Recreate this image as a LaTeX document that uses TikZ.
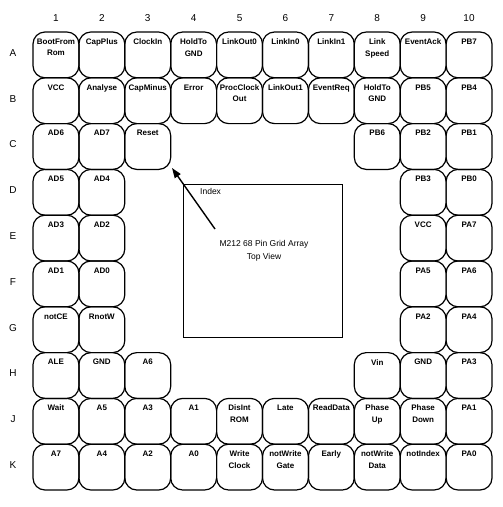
\documentclass[tikz,border=0pt]{standalone}
\usepackage{fontspec}
\setmainfont{Liberation Sans}
\usetikzlibrary{arrows.meta}
\tikzset{
  pinbox/.style={draw, line width=1.2pt, rounded corners=12pt, minimum width=45.9pt, minimum height=45.8pt, inner sep=0pt, outer sep=0pt},
  pintext/.style={font=\bfseries\fontsize{8}{11.5}\selectfont, align=center, anchor=north, inner sep=0pt},
  axislbl/.style={font=\fontsize{10}{12}\selectfont, inner sep=0pt},
  chiptext/.style={font=\fontsize{8.5}{13}\selectfont, align=center, inner sep=0pt}
}
\newcommand\mypin[3]{%
  \node[pinbox] (p#1-#2) at ({33+45.9*(#1-0.5)},{32+45.8*(#2+0.5)}) {};
  \node[pintext] (t#1-#2) at ([yshift=-6.5pt]p#1-#2.north) {#3};}
\begin{document}
\begin{tikzpicture}[x=1pt,y=-1pt]
\useasboundingbox (0,0) rectangle (503,507);
% column numbers
\foreach \c in {1,...,10} {
  \node[axislbl] (col\c) at ({33+45.9*(\c-0.5)},18) {\c};
}
% row letters
\foreach \r/\l in {0/A,1/B,2/C,3/D,4/E,5/F,6/G,7/H,8/J,9/K} {
  \node[axislbl] (row\l) at (13,{32+45.8*(\r+0.5)-2}) {\l};
}
% row A
\mypin{1}{0}{BootFrom\\Rom}
\mypin{2}{0}{CapPlus}
\mypin{3}{0}{ClockIn}
\mypin{4}{0}{HoldTo\\GND}
\mypin{5}{0}{LinkOut0}
\mypin{6}{0}{LinkIn0}
\mypin{7}{0}{LinkIn1}
\mypin{8}{0}{Link\\Speed}
\mypin{9}{0}{EventAck}
\mypin{10}{0}{PB7}
% row B
\mypin{1}{1}{VCC}
\mypin{2}{1}{Analyse}
\mypin{3}{1}{CapMinus}
\mypin{4}{1}{Error}
\mypin{5}{1}{ProcClock\\Out}
\mypin{6}{1}{LinkOut1}
\mypin{7}{1}{EventReq}
\mypin{8}{1}{HoldTo\\GND}
\mypin{9}{1}{PB5}
\mypin{10}{1}{PB4}
% row C
\mypin{1}{2}{AD6}
\mypin{2}{2}{AD7}
\mypin{3}{2}{Reset}
\mypin{8}{2}{PB6}
\mypin{9}{2}{PB2}
\mypin{10}{2}{PB1}
% row D
\mypin{1}{3}{AD5}
\mypin{2}{3}{AD4}
\mypin{9}{3}{PB3}
\mypin{10}{3}{PB0}
% row E
\mypin{1}{4}{AD3}
\mypin{2}{4}{AD2}
\mypin{9}{4}{VCC}
\mypin{10}{4}{PA7}
% row F
\mypin{1}{5}{AD1}
\mypin{2}{5}{AD0}
\mypin{9}{5}{PA5}
\mypin{10}{5}{PA6}
% row G
\mypin{1}{6}{notCE}
\mypin{2}{6}{RnotW}
\mypin{9}{6}{PA2}
\mypin{10}{6}{PA4}
% row H
\mypin{1}{7}{ALE}
\mypin{2}{7}{GND}
\mypin{3}{7}{A6}
\mypin{8}{7}{Vin}
\mypin{9}{7}{GND}
\mypin{10}{7}{PA3}
% row J
\mypin{1}{8}{Wait}
\mypin{2}{8}{A5}
\mypin{3}{8}{A3}
\mypin{4}{8}{A1}
\mypin{5}{8}{DisInt\\ROM}
\mypin{6}{8}{Late}
\mypin{7}{8}{ReadData}
\mypin{8}{8}{Phase\\Up}
\mypin{9}{8}{Phase\\Down}
\mypin{10}{8}{PA1}
% row K
\mypin{1}{9}{A7}
\mypin{2}{9}{A4}
\mypin{3}{9}{A2}
\mypin{4}{9}{A0}
\mypin{5}{9}{Write\\Clock}
\mypin{6}{9}{notWrite\\Gate}
\mypin{7}{9}{Early}
\mypin{8}{9}{notWrite\\Data}
\mypin{9}{9}{notIndex}
\mypin{10}{9}{PA0}
% chip outline
\node[draw, line width=1pt, minimum width=159pt, minimum height=153pt, inner sep=0pt] (chip) at (262.5,260.5) {};
\node[chiptext, anchor=west] (idx) at (200,191) {Index};
\node[chiptext] (chiplbl) at (264,251) {M212 68 Pin Grid Array\\Top View};
\coordinate (idxtail) at (215,229);
\coordinate (idxtip) at (172,168);
\draw[line width=1.4pt, -{Triangle[length=10pt,width=7pt]}] (idxtail) -- (idxtip);
\end{tikzpicture}
\end{document}
